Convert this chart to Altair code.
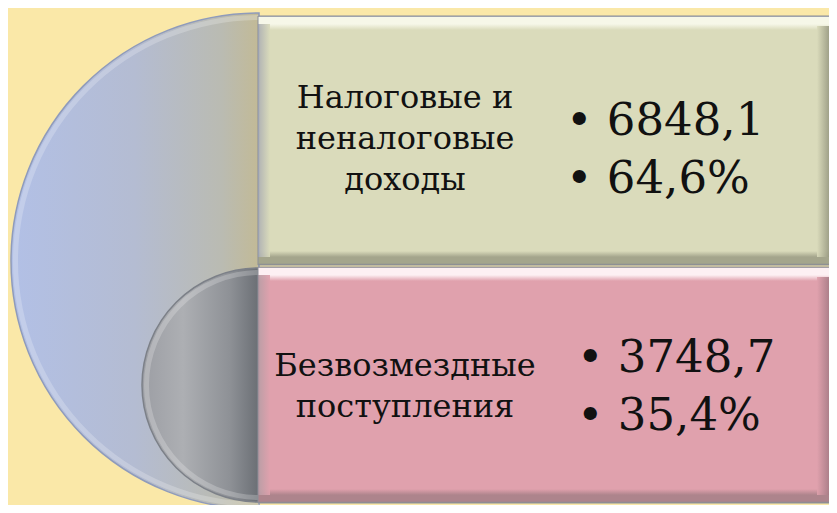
import altair as alt
import pandas as pd

# ---- data ----
categories = ["Налоговые и неналоговые доходы", "Безвозмездные поступления"]
label_lines = [["Налоговые и", "неналоговые", "доходы"], ["Безвозмездные", "поступления"]]
amounts = [6848.1, 3748.7]
shares = [64.6, 35.4]

# ---- layout (page pixels) ----
W, H = 821, 497
X0, Y0 = 8, 8
box_x = [258, 831]
box_y0 = [16, 267]
box_y1 = [265, 503]
label_x = 405
label_mid = [149, 396.5]
value_mid = [164, 401]
bullet_x = [566, 577]
LINE_L, LINE_V = 41, 58
fills = [
    dict(base="#dadbbb", hi="#f6f7e8", lo="#a4a58c", side_l="#b2b4b4", side_r="#8f907a", edge="#8e96b0"),
    dict(base="#e0a1ad", hi="#fdf0f3", lo="#ad848c", side_l="#bc9ea6", side_r="#9e7680", edge="#9a8c98"),
]

xs = alt.Scale(domain=[X0, X0 + W])
ys = alt.Scale(domain=[Y0, Y0 + H], reverse=True)


def fmt(v, suffix=""):
    return f"{v:.1f}".replace(".", ",") + suffix


def vgrad(stops):
    return alt.Gradient(gradient="linear", x1=0, x2=0, y1=0, y2=1,
                        stops=[alt.GradientStop(color=c, offset=o) for o, c in stops])


def hgrad(stops):
    return alt.Gradient(gradient="linear", x1=0, x2=1, y1=0, y2=0,
                        stops=[alt.GradientStop(color=c, offset=o) for o, c in stops])


layers = []

# ---- half circles ----
circ = pd.DataFrame({
    "cx": [259, 259], "cy": [261, 385], "r": [248, 117],
    "t0": [3.14159265, 3.14159265], "t1": [6.28318531, 6.28318531],
})
big_fill = hgrad([(0, "#b2c0e6"), (0.5, "#b4bcd2"), (0.85, "#babbb2"), (1, "#c2ba96")])
small_fill = hgrad([(0, "#9c9ea4"), (0.35, "#adafb3"), (0.75, "#8e9196"), (1, "#6a6e74")])

for i, fill, stroke in [(0, big_fill, "#8f9bbb"), (1, small_fill, "#7c8088")]:
    d = circ.iloc[[i]]
    layers.append(
        alt.Chart(d).mark_arc(fill=fill, stroke=stroke, strokeWidth=1.5).encode(
            x=alt.X("cx:Q", scale=xs, axis=None),
            y=alt.Y("cy:Q", scale=ys, axis=None),
            theta=alt.Theta("t0:Q", scale=None),
            theta2="t1:Q",
            radius=alt.Radius("r:Q", scale=None),
        )
    )
    rim = d.assign(r2=d["r"] - 7, r=d["r"] - 2)
    layers.append(
        alt.Chart(rim).mark_arc(fill="#ffffff", opacity=0.22).encode(
            x=alt.X("cx:Q", scale=xs, axis=None),
            y=alt.Y("cy:Q", scale=ys, axis=None),
            theta=alt.Theta("t0:Q", scale=None),
            theta2="t1:Q",
            radius=alt.Radius("r:Q", scale=None),
            radius2="r2:Q",
        )
    )

# ---- boxes with bevel ----
for i, cat in enumerate(categories):
    f = fills[i]
    y0, y1 = box_y0[i], box_y1[i]
    h = y1 - y0
    main = pd.DataFrame({"cat": [cat], "x0": [box_x[0]], "x1": [box_x[1]], "y0": [y0], "y1": [y1]})
    g = vgrad([(0, f["edge"]), (1.5 / h, f["hi"]), (8 / h, f["hi"]), (14 / h, f["base"]),
               (1 - 14 / h, f["base"]), (1 - 8 / h, f["lo"]), (1 - 2 / h, f["lo"]), (1, "#8a8c90")])
    layers.append(
        alt.Chart(main).mark_rect(fill=g, stroke="#8b8f98", strokeWidth=1).encode(
            x=alt.X("x0:Q", scale=xs, axis=None), x2="x1:Q",
            y=alt.Y("y0:Q", scale=ys, axis=None), y2="y1:Q",
        )
    )
    left = main.assign(x1=box_x[0] + 12, y0=y0 + 8, y1=y1 - 8)
    layers.append(
        alt.Chart(left).mark_rect(fill=hgrad([(0, f["edge"]), (0.15, f["side_l"]), (1, f["base"])]),
                                  opacity=0.9).encode(
            x=alt.X("x0:Q", scale=xs, axis=None), x2="x1:Q",
            y=alt.Y("y0:Q", scale=ys, axis=None), y2="y1:Q",
        )
    )
    right = main.assign(x0=box_x[1] - 14, y0=y0 + 10, y1=y1 - 8)
    layers.append(
        alt.Chart(right).mark_rect(fill=hgrad([(0, f["base"]), (1, f["side_r"])]), opacity=0.9).encode(
            x=alt.X("x0:Q", scale=xs, axis=None), x2="x1:Q",
            y=alt.Y("y0:Q", scale=ys, axis=None), y2="y1:Q",
        )
    )

# ---- texts ----
lab_rows, val_rows = [], []
for i, cat in enumerate(categories):
    n = len(label_lines[i])
    for j, line in enumerate(label_lines[i]):
        lab_rows.append({"cat": cat, "text": line, "x": label_x,
                         "y": label_mid[i] + (j - (n - 1) / 2) * LINE_L})
    vals = [fmt(amounts[i]), fmt(shares[i], "%")]
    for j, v in enumerate(vals):
        val_rows.append({"cat": cat, "text": "\u2022 " + v, "x": bullet_x[i],
                         "y": value_mid[i] + (j - 0.5) * LINE_V})

layers.append(
    alt.Chart(pd.DataFrame(lab_rows)).mark_text(
        font="DejaVu Serif", fontSize=32, align="center", baseline="alphabetic", color="#111111"
    ).encode(x=alt.X("x:Q", scale=xs, axis=None), y=alt.Y("y:Q", scale=ys, axis=None), text="text:N")
)
layers.append(
    alt.Chart(pd.DataFrame(val_rows)).mark_text(
        font="DejaVu Serif", fontSize=45, align="left", baseline="alphabetic", color="#111111"
    ).encode(x=alt.X("x:Q", scale=xs, axis=None), y=alt.Y("y:Q", scale=ys, axis=None), text="text:N")
)

chart = alt.layer(*layers).properties(
    width=W, height=H, background="#fae8a8", padding=0,
    autosize=alt.AutoSizeParams(type="none"),
).configure_view(stroke=None)

chart.save("out.html", embed_options={"renderer": "svg", "actions": False})
